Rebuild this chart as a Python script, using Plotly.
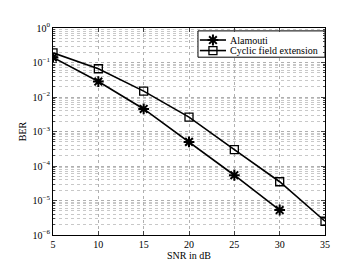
import plotly.graph_objects as go

snr_alamouti = [5, 10, 15, 20, 25, 30]
ber_alamouti = [0.14, 0.028, 0.0045, 5.0e-4, 5.4e-5, 5.3e-6]
snr_cyclic = [5, 10, 15, 20, 25, 30, 35]
ber_cyclic = [0.19, 0.066, 0.0148, 0.0026, 3.0e-4, 3.5e-5, 2.5e-6]
series_names = ["Alamouti", "Cyclic field extension"]

x_ticks = [5, 10, 15, 20, 25, 30, 35]
y_exps = [0, -1, -2, -3, -4, -5, -6]
y_tickvals = [10.0 ** e for e in y_exps]
y_ticktext = ["10<sup>%s</sup>" % ("\u2212%d" % -e if e < 0 else "0") for e in y_exps]

font = "Liberation Serif"
symbols = ["asterisk-open", "square-open"]
msizes = [9, 8]
mwidths = [2, 1.3]

fig = go.Figure()
for xs, ys, nm, sym, ms, mw in [(snr_alamouti, ber_alamouti, series_names[0], symbols[0], msizes[0], mwidths[0]),
                                (snr_cyclic, ber_cyclic, series_names[1], symbols[1], msizes[1], mwidths[1])]:
    fig.add_trace(go.Scatter(
        x=xs, y=ys, name=nm, mode="lines+markers", showlegend=False,
        line=dict(color="black", width=1.6),
        marker=dict(symbol=sym, size=ms, color="black", line=dict(color="black", width=mw)),
    ))

# compact legend drawn on an overlay axis (0..1 of plot area)
leg_x0, leg_x1, leg_y0, leg_y1 = 0.533, 1.0, 0.859, 0.986
row_y = [0.942, 0.891]
line_x0, line_x1, mark_x, text_x = 0.54, 0.636, 0.588, 0.643

fig.add_trace(go.Scatter(
    x=[leg_x0, leg_x1, leg_x1, leg_x0, leg_x0], y=[leg_y0, leg_y0, leg_y1, leg_y1, leg_y0],
    xaxis="x2", yaxis="y2", mode="lines", fill="toself", fillcolor="white",
    line=dict(color="black", width=1), showlegend=False, hoverinfo="skip",
))
annotations = []
for i, nm in enumerate(series_names):
    fig.add_trace(go.Scatter(
        x=[line_x0, line_x1], y=[row_y[i], row_y[i]], xaxis="x2", yaxis="y2", mode="lines",
        line=dict(color="black", width=1.6), showlegend=False, hoverinfo="skip",
    ))
    fig.add_trace(go.Scatter(
        x=[mark_x], y=[row_y[i]], xaxis="x2", yaxis="y2", mode="markers", showlegend=False,
        hoverinfo="skip",
        marker=dict(symbol=symbols[i], size=msizes[i], color="black", line=dict(color="black", width=mwidths[i])),
    ))
    annotations.append(dict(xref="x domain", yref="y domain", x=text_x, y=row_y[i], text=nm,
                            showarrow=False, xanchor="left", yanchor="middle",
                            font=dict(family=font, size=10, color="black")))

fig.update_layout(
    width=350, height=263,
    margin=dict(l=45, r=33, t=20, b=30),
    paper_bgcolor="white", plot_bgcolor="white",
    font=dict(family=font, size=10, color="black"),
    showlegend=False,
    annotations=annotations,
    xaxis2=dict(overlaying="x", range=[0, 1], visible=False, fixedrange=True),
    yaxis2=dict(overlaying="y", range=[0, 1], visible=False, fixedrange=True),
    xaxis=dict(
        range=[5, 35], tickvals=x_ticks, ticks="inside", ticklen=4,
        showline=True, linecolor="black", linewidth=1, mirror="ticks",
        showgrid=True, gridcolor="#b0b0b0", griddash="dot", gridwidth=1,
        zeroline=False,
        title=dict(text="SNR in dB", standoff=2, font=dict(family=font, size=10)),
        tickfont=dict(family=font, size=10),
    ),
    yaxis=dict(
        type="log", range=[-6, 0], tickvals=y_tickvals, ticktext=y_ticktext,
        ticks="inside", ticklen=4,
        showline=True, linecolor="black", linewidth=1, mirror="ticks",
        showgrid=True, gridcolor="#b0b0b0", griddash="dot", gridwidth=1,
        minor=dict(dtick="D1", showgrid=True, gridcolor="#c8c8c8", griddash="dot", ticks="inside", ticklen=2),
        zeroline=False,
        title=dict(text="BER", standoff=4, font=dict(family=font, size=10)),
        tickfont=dict(family=font, size=10),
    ),
)

fig.write_html("out.html")
